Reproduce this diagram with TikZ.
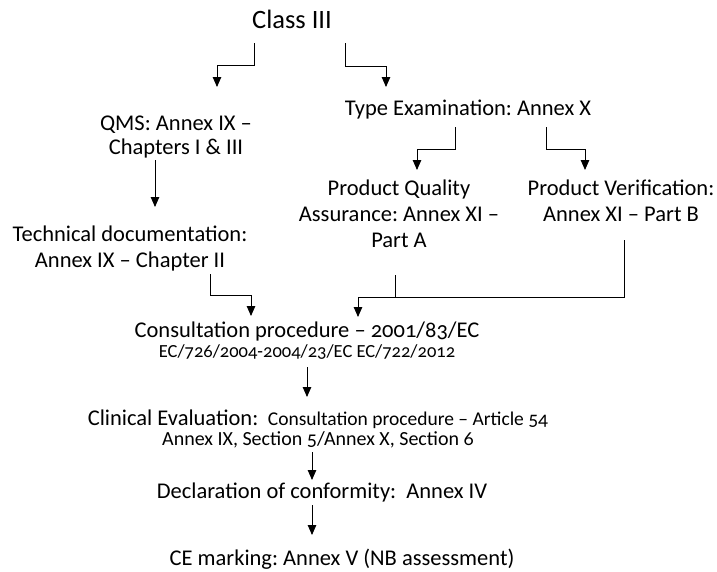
\documentclass[tikz,border=0pt]{standalone}
\usepackage{fontspec}
\setmainfont{Carlito}[Numbers=OldStyle]
\usetikzlibrary{arrows.meta,calc}
\frenchspacing

% stacked, centred lines whose baseline is the first line's baseline
\newcommand\linestack[2]{{\fontsize{22.5}{#1}\selectfont
  \begin{tabular}[t]{@{}c@{}}#2\end{tabular}}}
\newcommand\mainsize{\fontsize{22.5}{26}\selectfont}

\tikzset{
  lbl/.style={inner sep=0pt, anchor=base, text=black},
  link/.style={draw=black, line width=0.9pt},
  arr/.style={link, -{Triangle[width=8.5pt,length=10pt]}}
}

\begin{document}
\begin{tikzpicture}[x=1pt, y=-1pt]
\path[use as bounding box] (0,0) rectangle (717,571);

% boxes of text
\node[lbl, font=\fontsize{26.5}{30}\selectfont] (class) at (292,28) {Class III};
\node[lbl] (qms)  at (176,130) {\linestack{24}{QMS: Annex IX --\\ Chapters I \& III}};
\node[lbl, font=\mainsize] (type) at (468,115) {Type Examination: Annex X};
\node[lbl] (tech) at (130,241) {\linestack{26.5}{Technical documentation:\\ Annex IX -- Chapter II}};
\node[lbl] (pqa)  at (399,195) {\linestack{26}{Product Quality\\ Assurance: Annex XI --\\ Part A}};
\node[lbl] (pv)   at (621,195) {\linestack{26}{Product Verification:\\ Annex XI -- Part B}};
\node[lbl] (cons) at (307,337) {\linestack{20}{Consultation procedure -- 2001/83/EC\\
  {\fontsize{18.5}{20}\selectfont EC/726/2004-2004/23/EC EC/722/2012}}};
\node[lbl] (clin) at (318,425) {\linestack{20}{Clinical Evaluation:\ {\fontsize{19.5}{20}\selectfont\ Consultation procedure -- Article 54}\\
  {\fontsize{20}{20}\selectfont Annex IX, Section 5/Annex X, Section 6}}};
\node[lbl, font=\mainsize] (decl) at (322,498) {Declaration of conformity:\ \ Annex IV};
\node[lbl, font=\mainsize] (ce)   at (342,565) {CE marking: Annex V (NB assessment)};

% connectors
\draw[arr] ($(class.base)+(-38,15)$) -- ++(0,22) -| ($(qms.base)+(41,-43)$);
\draw[arr] ($(class.base)+(53,15)$) -- ++(0,23) -| ($(type.base)+(-82,-28)$);
\draw[arr] ($(qms.base)+(-21,30)$) -- ($(tech.base)+(25,-34)$);
\draw[arr] ($(type.base)+(-13,12)$) -- ++(0,22) -| ($(pqa.base)+(18,-25)$);
\draw[arr] ($(type.base)+(78,12)$) -- ++(0,22) -| ($(pv.base)+(-36,-25)$);
\draw[arr] ($(tech.base)+(80,33)$) -- ++(0,21) -| ($(cons.base)+(-56,-21)$);

\coordinate (join) at ($(cons.base)+(51,-40)$);
\draw[arr] ($(pv.base)+(3,45)$) |- (join) -- ($(cons.base)+(51,-20)$);
\draw[link] ($(pqa.base)+(-4,80)$) coordinate (pqaend) -- (pqaend |- join);

\draw[arr] ($(cons.base)+(0,30)$) -- ($(clin.base)+(-11,-28)$);
\draw[arr] ($(clin.base)+(-6,27)$) -- ($(decl.base)+(-10,-18)$);
\draw[arr] ($(decl.base)+(-10,7)$) -- ($(ce.base)+(-30,-30)$);
\end{tikzpicture}
\end{document}
